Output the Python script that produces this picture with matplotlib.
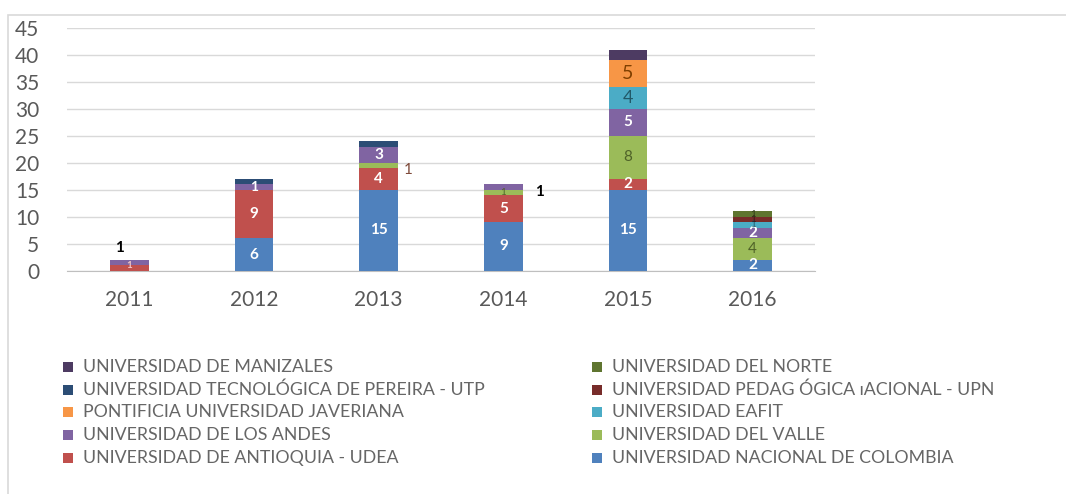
import matplotlib
matplotlib.use("Agg")
import matplotlib.pyplot as plt
from matplotlib.patches import Rectangle
import numpy as np

years = ["2011", "2012", "2013", "2014", "2015", "2016"]

# series in stacking order (bottom -> top)
series_names = [
    "UNIVERSIDAD NACIONAL DE COLOMBIA",
    "UNIVERSIDAD DE ANTIOQUIA - UDEA",
    "UNIVERSIDAD DEL VALLE",
    "UNIVERSIDAD DE LOS ANDES",
    "UNIVERSIDAD EAFIT",
    "PONTIFICIA UNIVERSIDAD JAVERIANA",
    "UNIVERSIDAD PEDAGÓGICA NACIONAL - UPN",
    "UNIVERSIDAD TECNOLÓGICA DE PEREIRA - UTP",
    "UNIVERSIDAD DEL NORTE",
    "UNIVERSIDAD DE MANIZALES",
]
legend_labels = [
    "UNIVERSIDAD NACIONAL DE COLOMBIA",
    "UNIVERSIDAD DE ANTIOQUIA - UDEA",
    "UNIVERSIDAD DEL VALLE",
    "UNIVERSIDAD DE LOS ANDES",
    "UNIVERSIDAD EAFIT",
    "PONTIFICIA UNIVERSIDAD JAVERIANA",
    "UNIVERSIDAD PEDAG ÓGICA ɪACIONAL - UPN",
    "UNIVERSIDAD TECNOLÓGICA DE PEREIRA - UTP",
    "UNIVERSIDAD DEL NORTE",
    "UNIVERSIDAD DE MANIZALES",
]
nacional   = [0, 6, 15, 9, 15, 2]
antioquia  = [1, 9, 4, 5, 2, 0]
valle      = [0, 0, 1, 1, 8, 4]
andes      = [1, 1, 3, 1, 5, 2]
eafit      = [0, 0, 0, 0, 4, 1]
javeriana  = [0, 0, 0, 0, 5, 0]
pedagogica = [0, 0, 0, 0, 0, 1]
utp        = [0, 1, 1, 0, 0, 0]
norte      = [0, 0, 0, 0, 0, 1]
manizales  = [0, 0, 0, 0, 2, 0]
values = [nacional, antioquia, valle, andes, eafit, javeriana,
          pedagogica, utp, norte, manizales]

colors = ["#4F81BD", "#C0504D", "#9BBB59", "#8064A2", "#4BACC6",
          "#F79646", "#772C2A", "#2C4D75", "#5F7530", "#4D3B62"]
label_colors = ["white", "white", "#4F6228", "white", "#215968",
                "#7F3F00", "#3A1615", "white", "#2F3A18", "white"]
label_sizes = [11, 11, 11, 11, 13, 14, 9, 9, 9, 9]

FONT = ["Lato", "DejaVu Sans"]
plt.rcParams["font.family"] = FONT

W, H = 1066, 494
fig = plt.figure(figsize=(W / 100, H / 100), dpi=100)
fig.patch.set_facecolor("white")

# chart border
fig.patches.append(Rectangle((8 / W, -0.1), 1.2, 1 - 15 / H + 0.1,
                             transform=fig.transFigure, fill=False,
                             edgecolor="#D9D9D9", linewidth=1.2))

ax = fig.add_axes([67 / W, 1 - 270.7 / H, (815 - 67) / W, (270.7 - 28) / H])
x = np.arange(len(years))
width = 0.31
# segments whose label is drawn outside the bar as a call-out: (series, year index)
outside = {(3, 0), (2, 2), (3, 3)}
bottom = np.zeros(len(years))
for si, (name, vals, c, lc, ls) in enumerate(zip(series_names, values, colors,
                                                 label_colors, label_sizes)):
    vals = np.array(vals, dtype=float)
    ax.bar(x, vals, width, bottom=bottom, color=c, zorder=3, label=name)
    for xi, v, b in zip(x, vals, bottom):
        if v <= 0:
            continue
        # labels of the thin top segments are hidden in the reference
        if si in (7, 9) or (si, xi) in outside:
            continue
        fs = ls if v > 1 else 7
        if v == 1 and si == 3 and xi == 1:
            fs = 10
        yy = b + v / 2
        if si == 1 and xi == 0:
            yy = b + v  # label sits at the seam of the tiny 2011 bar
        ax.text(xi, yy, f"{int(v)}", ha="center", va="center",
                color=lc if not (si == 1 and xi == 0) else "#F2C4C4",
                fontsize=fs,
                fontweight="bold" if lc == "white" else "normal", zorder=4)
    bottom += vals

# outside call-out labels
ax.text(x[0] - 0.08, bottom[0] + 2.2, "1", ha="center", va="center",
        fontsize=11, fontweight="bold", color="black")
ax.text(x[2] + 0.24, 18.7, "1", ha="center", va="center",
        fontsize=11, color="#7F4A3A")
ax.text(x[3] + 0.29, 14.6, "1", ha="center", va="center",
        fontsize=11, fontweight="bold", color="black")

ax.set_xlim(-0.5, 5.5)
ax.set_ylim(0, 45)
ax.set_yticks(range(0, 46, 5))
ax.set_xticks(x)
ax.set_xticklabels(years)
ax.grid(axis="y", color="#D9D9D9", linewidth=1, zorder=0)
for s in ["top", "right", "left"]:
    ax.spines[s].set_visible(False)
ax.spines["bottom"].set_color("#BFBFBF")
ax.tick_params(axis="both", length=0, labelsize=15, colors="#595959")
ax.tick_params(axis="y", pad=20)
ax.tick_params(axis="x", pad=14)

# legend (two columns, drawn as patches + text)
left_col = [9, 7, 5, 3, 1]   # Manizales, UTP, Javeriana, Andes, Antioquia
right_col = [8, 6, 4, 2, 0]  # Norte, Pedagogica, EAFIT, Valle, Nacional
rows_y = [367, 389.5, 412, 435, 458]
for col, xpx in ((left_col, 63), (right_col, 592)):
    for idx, ypx in zip(col, rows_y):
        fig.patches.append(Rectangle((xpx / W, 1 - (ypx + 5) / H), 10 / W, 10 / H,
                                     transform=fig.transFigure,
                                     facecolor=colors[idx], edgecolor="none"))
        fig.text((xpx + 20) / W, 1 - ypx / H, legend_labels[idx],
                 ha="left", va="center", fontsize=12.8, color="#666666")

fig.savefig("out.png", dpi=100)
